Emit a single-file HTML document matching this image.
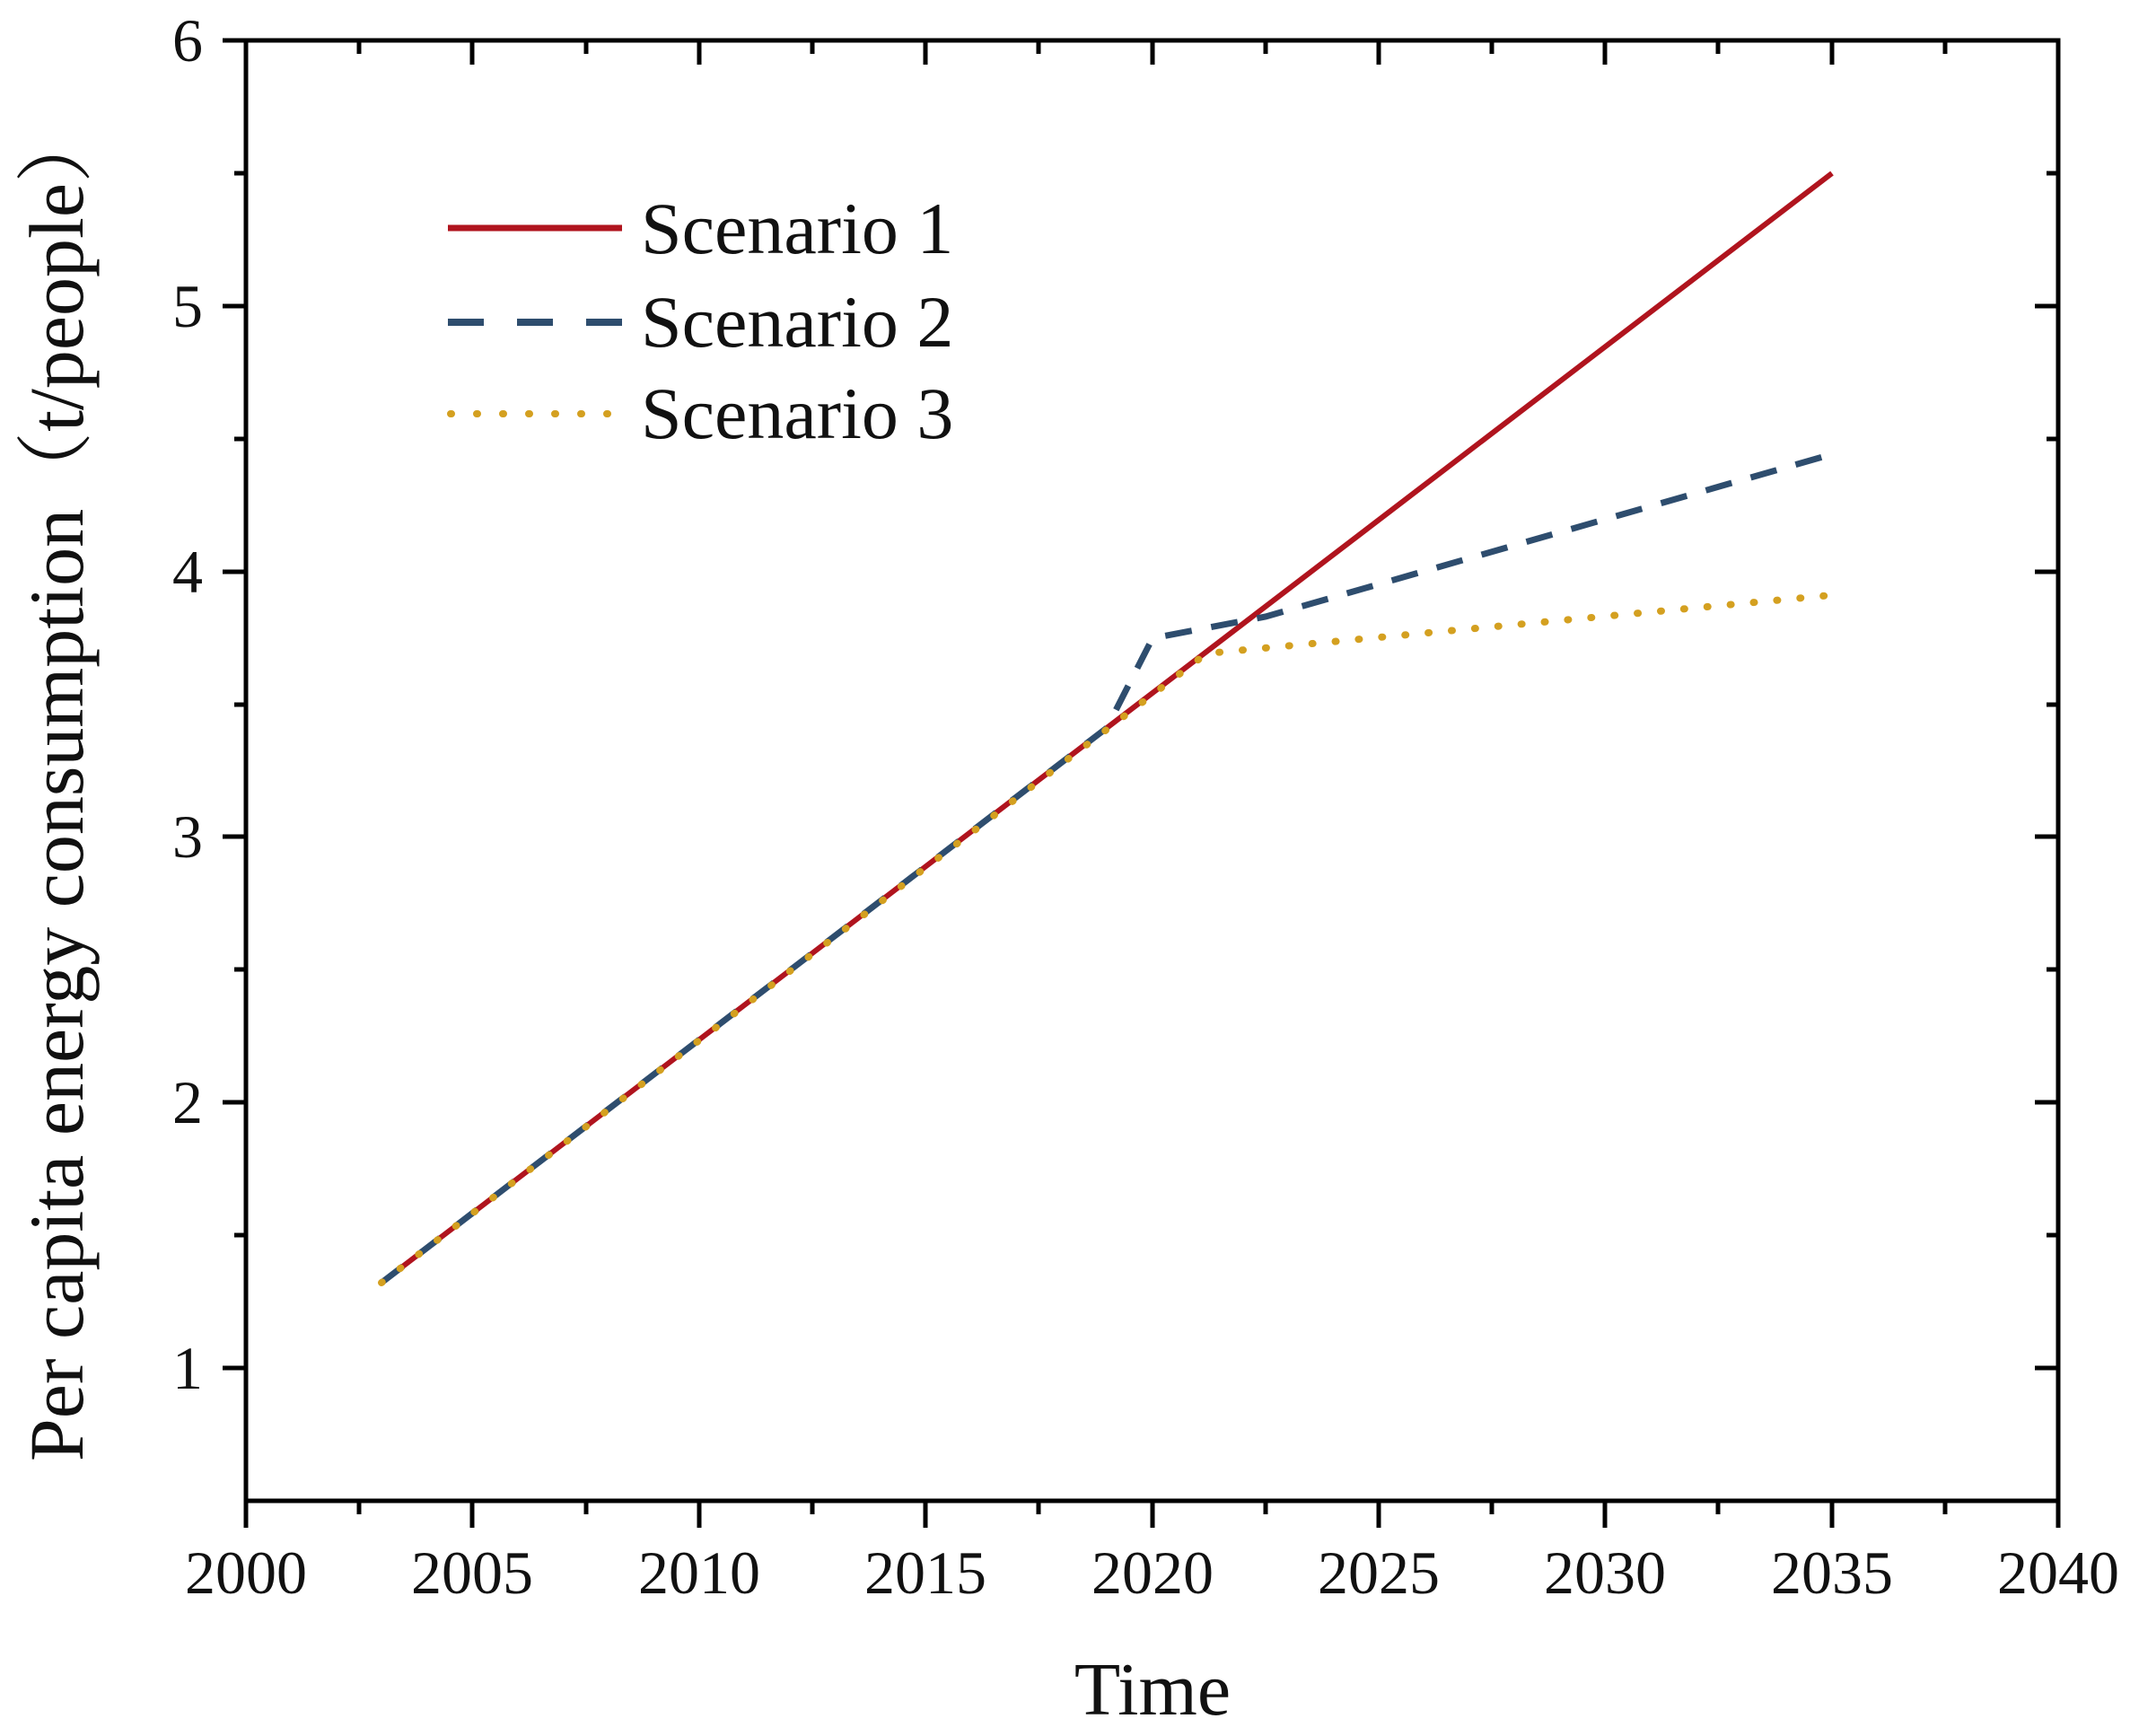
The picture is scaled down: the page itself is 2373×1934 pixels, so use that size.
<!DOCTYPE html>
<html><head><meta charset="utf-8"><style>html,body{margin:0;padding:0;background:#fff}svg{display:block}</style></head>
<body>
<svg width="2373" height="1934" viewBox="0 0 2373 1934" xmlns="http://www.w3.org/2000/svg" font-family="Liberation Serif, serif">
<rect width="2373" height="1934" fill="#fff"/>
<g stroke="#000" stroke-width="5" fill="none">
<rect x="274" y="45" width="2019" height="1627"/>
</g>
<g id="ticks" stroke="#000" stroke-width="5">
<line x1="248" y1="45" x2="274" y2="45"/><line x1="2267" y1="45" x2="2293" y2="45"/>
<line x1="261" y1="193" x2="274" y2="193"/><line x1="2280" y1="193" x2="2293" y2="193"/>
<line x1="248" y1="341" x2="274" y2="341"/><line x1="2267" y1="341" x2="2293" y2="341"/>
<line x1="261" y1="489" x2="274" y2="489"/><line x1="2280" y1="489" x2="2293" y2="489"/>
<line x1="248" y1="637" x2="274" y2="637"/><line x1="2267" y1="637" x2="2293" y2="637"/>
<line x1="261" y1="785" x2="274" y2="785"/><line x1="2280" y1="785" x2="2293" y2="785"/>
<line x1="248" y1="932" x2="274" y2="932"/><line x1="2267" y1="932" x2="2293" y2="932"/>
<line x1="261" y1="1080" x2="274" y2="1080"/><line x1="2280" y1="1080" x2="2293" y2="1080"/>
<line x1="248" y1="1228" x2="274" y2="1228"/><line x1="2267" y1="1228" x2="2293" y2="1228"/>
<line x1="261" y1="1376" x2="274" y2="1376"/><line x1="2280" y1="1376" x2="2293" y2="1376"/>
<line x1="248" y1="1524" x2="274" y2="1524"/><line x1="2267" y1="1524" x2="2293" y2="1524"/>
<line x1="274" y1="1672" x2="274" y2="1702"/>
<line x1="400" y1="1672" x2="400" y2="1687"/><line x1="400" y1="45" x2="400" y2="60"/>
<line x1="526" y1="1672" x2="526" y2="1702"/><line x1="526" y1="45" x2="526" y2="72"/>
<line x1="653" y1="1672" x2="653" y2="1687"/><line x1="653" y1="45" x2="653" y2="60"/>
<line x1="779" y1="1672" x2="779" y2="1702"/><line x1="779" y1="45" x2="779" y2="72"/>
<line x1="905" y1="1672" x2="905" y2="1687"/><line x1="905" y1="45" x2="905" y2="60"/>
<line x1="1031" y1="1672" x2="1031" y2="1702"/><line x1="1031" y1="45" x2="1031" y2="72"/>
<line x1="1157" y1="1672" x2="1157" y2="1687"/><line x1="1157" y1="45" x2="1157" y2="60"/>
<line x1="1284" y1="1672" x2="1284" y2="1702"/><line x1="1284" y1="45" x2="1284" y2="72"/>
<line x1="1410" y1="1672" x2="1410" y2="1687"/><line x1="1410" y1="45" x2="1410" y2="60"/>
<line x1="1536" y1="1672" x2="1536" y2="1702"/><line x1="1536" y1="45" x2="1536" y2="72"/>
<line x1="1662" y1="1672" x2="1662" y2="1687"/><line x1="1662" y1="45" x2="1662" y2="60"/>
<line x1="1788" y1="1672" x2="1788" y2="1702"/><line x1="1788" y1="45" x2="1788" y2="72"/>
<line x1="1914" y1="1672" x2="1914" y2="1687"/><line x1="1914" y1="45" x2="1914" y2="60"/>
<line x1="2041" y1="1672" x2="2041" y2="1702"/><line x1="2041" y1="45" x2="2041" y2="72"/>
<line x1="2167" y1="1672" x2="2167" y2="1687"/><line x1="2167" y1="45" x2="2167" y2="60"/>
<line x1="2293" y1="1672" x2="2293" y2="1702"/>
</g>
<g font-size="68" fill="#111" text-anchor="end">
<text x="226" y="68">6</text><text x="226" y="364">5</text><text x="226" y="660">4</text>
<text x="226" y="955">3</text><text x="226" y="1251">2</text><text x="226" y="1547">1</text>
</g>
<g font-size="68" fill="#111" text-anchor="middle">
<text x="274" y="1775">2000</text><text x="526" y="1775">2005</text><text x="779" y="1775">2010</text>
<text x="1031" y="1775">2015</text><text x="1284" y="1775">2020</text><text x="1536" y="1775">2025</text>
<text x="1788" y="1775">2030</text><text x="2041" y="1775">2035</text><text x="2293" y="1775">2040</text>
</g>
<text x="1284" y="1910" font-size="84" text-anchor="middle" fill="#111">Time</text>
<text transform="translate(92,873) rotate(-90)" font-size="86" text-anchor="middle" fill="#111" font-family="Liberation Serif, 'Noto Serif CJK SC', serif">Per capita energy consumption（t/people）</text>
<polyline points="425,1429 2041,193" fill="none" stroke="#B0141E" stroke-width="6"/>
<polyline points="425,1429 1233,811 1284,711 1410,687 2041,506" fill="none" stroke="#2E4D6E" stroke-width="7" stroke-dasharray="30,22"/>
<polyline points="425,1429 1344,728 2041,663" fill="none" stroke="#D4A020" stroke-width="8" stroke-dasharray="1,25" stroke-linecap="round"/>
<line x1="499" y1="254" x2="693" y2="254" stroke="#B0141E" stroke-width="7"/>
<line x1="499" y1="359" x2="693" y2="359" stroke="#2E4D6E" stroke-width="8" stroke-dasharray="40,37"/>
<line x1="502" y1="461" x2="693" y2="461" stroke="#D4A020" stroke-width="8" stroke-dasharray="1,28" stroke-linecap="round"/>
<g font-size="82" fill="#111">
<text x="714" y="282">Scenario 1</text><text x="714" y="386">Scenario 2</text><text x="714" y="488">Scenario 3</text>
</g>
</svg>
</body></html>
